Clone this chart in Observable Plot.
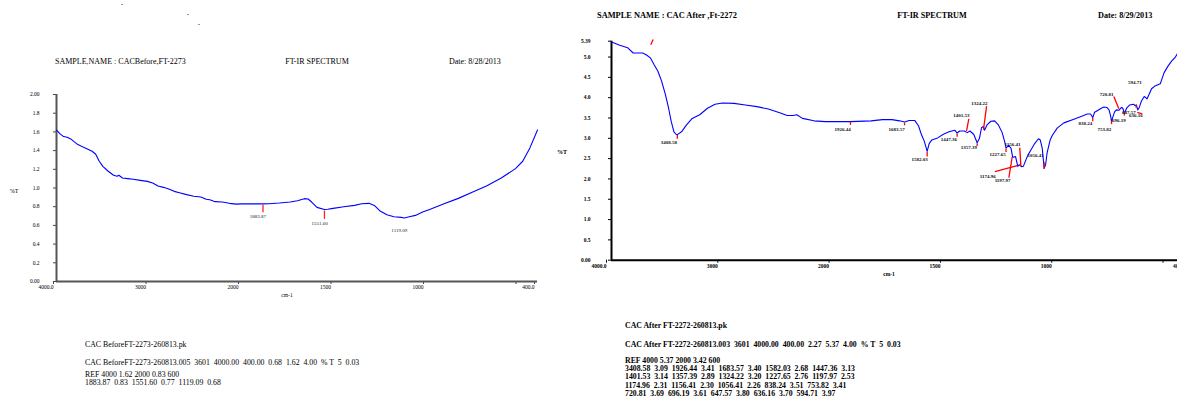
<!DOCTYPE html>
<html><head><meta charset="utf-8">
<script src="https://cdn.jsdelivr.net/npm/d3@7"></script>
<script src="https://cdn.jsdelivr.net/npm/@observablehq/plot@0.6"></script>
<style>
html,body{margin:0;padding:0;width:1177px;height:400px;overflow:hidden;background:#fff;}
body{position:relative;font-family:"Liberation Serif","Times New Roman",serif;color:#000;}
.t{position:absolute;white-space:pre;line-height:1;}
.b{font-weight:bold;}
.c{transform:translateX(-50%);}
#left,#right{position:absolute;top:0;height:300px;}
#left{left:0px;width:580px;} #right{left:580px;width:620px;}
#left svg,#right svg{max-width:none !important;}
.dot{position:absolute;width:2px;height:1px;background:#999;}
</style></head><body>
<div id="left"></div><div id="right"></div>
<div id="texts"></div>
<script>
// ---------- DATA ----------
// Left spectrum: CAC Before (wavenumber cm-1, %T)
const leftSpectrum = [
 [4000,1.62],[3961,1.579],[3923,1.55],[3884,1.543],[3846,1.525],[3807,1.493],[3769,1.464],[3730,1.446],
 [3672,1.421],[3615,1.393],[3576,1.361],[3538,1.286],[3499,1.232],[3441,1.179],[3383,1.136],[3345,1.125],
 [3326,1.136],[3287,1.107],[3229,1.1],[3171,1.093],[3094,1.082],[3017,1.071],[2960,1.054],[2902,1.021],
 [2844,1.007],[2786,0.989],[2728,0.964],[2671,0.95],[2593,0.929],[2516,0.911],[2439,0.904],[2382,0.879],
 [2343,0.875],[2285,0.854],[2208,0.85],[2131,0.836],[2054,0.828],[2000,0.83],[1950,0.83],[1883.87,0.83],
 [1853,0.832],[1795,0.839],[1737,0.85],[1698,0.864],[1660,0.886],[1640,0.882],[1621,0.85],[1592,0.793],
 [1551.6,0.77],[1534,0.772],[1505,0.782],[1447,0.8],[1389,0.814],[1350,0.832],[1311,0.836],[1282,0.814],
 [1253,0.757],[1214,0.714],[1176,0.693],[1137,0.686],[1119.09,0.68],[1099,0.689],[1060,0.707],[1021,0.743],
 [983,0.771],[905,0.832],[828,0.889],[750,0.957],[673,1.025],[596,1.107],[519,1.207],[480,1.286],[441,1.429],[400,1.62]
];
// Right spectrum: CAC After
const rightSpectrum = [
 [4000,5.37],[3925,5.29],[3856,5.23],[3805,5.1],[3771,5.1],[3720,5.1],[3685,5.05],[3651,4.98],[3617,4.81],
 [3583,4.65],[3549,4.4],[3515,4.07],[3487,3.74],[3463,3.41],[3439,3.16],[3420,3.1],[3408.58,3.09],[3371,3.16],
 [3326,3.33],[3275,3.49],[3207,3.58],[3138,3.74],[3070,3.84],[3002,3.87],[2899,3.86],[2797,3.82],[2694,3.78],
 [2591,3.72],[2489,3.63],[2421,3.56],[2369,3.56],[2335,3.58],[2284,3.49],[2181,3.43],[2079,3.41],[2000,3.41],
 [1926.44,3.41],[1834,3.43],[1783,3.46],[1740,3.46],[1706,3.43],[1683.57,3.4],[1663,3.44],[1638,3.44],
 [1621,3.31],[1607,3.08],[1595,2.93],[1582.03,2.68],[1573,2.87],[1561,2.96],[1535,3.01],[1509,3.1],[1484,3.16],
 [1458,3.2],[1447.36,3.13],[1436,3.18],[1415,3.18],[1401.53,3.14],[1390,3.18],[1373,3.1],[1357.39,2.89],
 [1347,3.0],[1338,3.26],[1330,3.29],[1324.22,3.2],[1313,3.33],[1296,3.42],[1279,3.43],[1262,3.33],[1245,3.14],
 [1233,2.9],[1227.65,2.76],[1215,2.83],[1205,2.75],[1197.97,2.53],[1185,2.55],[1174.96,2.31],[1168,2.35],
 [1156.41,2.3],[1150,2.31],[1142,2.42],[1130,2.58],[1116,2.71],[1099,2.87],[1082,2.99],[1074,2.96],[1065,2.75],
 [1056.41,2.26],[1050,2.35],[1043,2.65],[1030,2.95],[1020,3.07],[998,3.25],[968,3.38],[923,3.47],[885,3.55],
 [863,3.6],[848,3.6],[838.24,3.51],[830,3.64],[818,3.68],[800,3.74],[788,3.77],[775,3.76],[765,3.7],[758,3.55],
 [753.82,3.41],[748,3.52],[740,3.65],[732,3.7],[720.81,3.69],[709,3.76],[703,3.74],[696.19,3.61],[686,3.74],
 [672,3.82],[655,3.84],[647.57,3.8],[642,3.82],[636.16,3.7],[629,3.76],[620,3.91],[607,4.03],[600,4.0],
 [594.71,3.97],[586,4.07],[574,4.22],[561,4.28],[535,4.34],[518,4.61],[501,4.77],[484,4.9],[467,5.0],[453,5.13]
];
// Peak tables (from the printed peak lists)
const leftPeakWn = [1883.87, 1551.60, 1119.09];
const leftPeakT  = [0.83, 0.77, 0.68];
const rightPeakWn = [3408.58,1926.44,1683.57,1582.03,1447.36,1401.53,1357.39,1324.22,1227.65,1197.97,
                     1174.96,1156.41,1056.41,838.24,753.82,720.81,696.19,647.57,636.16,594.71];
const rightPeakT  = [3.09,3.41,3.40,2.68,3.13,3.14,2.89,3.20,2.76,2.53,2.31,2.30,2.26,3.51,3.41,3.69,3.61,3.80,3.70,3.97];
// Where each peak label sits (wavenumber, %T)
const leftLabelWn = [1911, 1578, 1147];
const leftLabelT  = [0.70, 0.62, 0.55];
const rightLabelWn = [3485,1962,1719,1616,1485,1428,1395,1347,1265,1243,1310,1199,1095,871,786,776,721,676,645,649];
const rightLabelT  = [2.90,3.22,3.22,2.49,2.97,3.56,2.77,3.86,2.60,1.96,2.06,2.85,2.58,3.37,3.23,4.08,3.44,3.63,3.56,4.37];
// Red peak markers: [wn1, T1, wn2, T2]
const leftMarkers = [[1883.87,0.82,1883.87,0.74],[1551.6,0.76,1551.6,0.67]];
const rightMarkers = [
 [3408.58,3.08,3408.58,2.99],[1926.44,3.40,1926.44,3.33],[1683.57,3.39,1683.57,3.32],[1582.03,2.67,1582.03,2.55],
 [1447.36,3.12,1447.36,3.04],[1405,3.18,1395,3.48],[1357.39,2.88,1357.39,2.81],[1329,3.21,1315,3.79],
 [1227.65,2.75,1227.65,2.66],[1215,2.03,1200,2.54],[1278,2.18,1177,2.33],[1166,2.77,1161,2.31],
 [1056.41,2.41,1056.41,2.25],[838.24,3.50,838.24,3.42],[753.82,3.43,753.82,3.35],[743.5,4.03,721,3.73],
 [696.19,3.64,696.19,3.56],[643,3.83,643,3.75],[638,3.64,616,3.60],[3647,5.30,3626,5.43]
];
// Axis ticks
const xTicks = [4000, 3000, 2000, 1500, 1000, 500, 400];
const leftYTicks = [0,0.2,0.4,0.6,0.8,1.0,1.2,1.4,1.6,1.8,2.0];
const rightYTicks = [0,0.5,1.0,1.5,2.0,2.5,3.0,3.5,4.0,4.5,5.0,5.39];
// Header / footer texts
const leftHeader = {name: "SAMPLE,NAME : CACBefore,FT-2273", title: "FT-IR SPECTRUM", date: "Date: 8/28/2013"};
const rightHeader = {name: "SAMPLE NAME : CAC After ,Ft-2272", title: "FT-IR SPECTRUM", date: "Date: 8/29/2013"};
const leftFooter = ["CAC BeforeFT-2273-260813.pk",
  "CAC BeforeFT-2273-260813.005  3601  4000.00  400.00  0.68  1.62  4.00  % T  5  0.03",
  "REF 4000 1.62 2000 0.83 600"];
const rightFooter = ["CAC After FT-2272-260813.pk",
  "CAC After FT-2272-260813.003  3601  4000.00  400.00  2.27  5.37  4.00  % T  5  0.03",
  "REF 4000 5.37 2000 3.42 600"];

// ---------- DRAW ----------
const fmtX = d => d === 4000 ? "4000.0" : d === 400 ? "400.0" : d === 500 ? "" : String(d);
const fmtYL = d => (d === 0 || d === 2) ? d.toFixed(2) : d.toFixed(1);
const fmtYR = d => (d === 0 || d === 5.39) ? d.toFixed(2) : d.toFixed(1);
const idx = a => a.map((_, i) => i);

const leftPlot = Plot.plot({
  width: 580, height: 300,
  marginLeft: 56, marginRight: 43, marginTop: 94, marginBottom: 19,
  style: {fontFamily: "Liberation Serif, serif", background: "transparent", color: "#000", maxWidth: "none"},
  x: {type: "linear", domain: [4000, 2000, 400], range: [56, 241, 537]},
  y: {type: "linear", domain: [0, 2], range: [281, 94]},
  marks: [
    Plot.axisY({ticks: leftYTicks, tickFormat: fmtYL, tickSize: 3, tickPadding: 14, fontSize: 5.5, label: null, stroke: "#444"}),
    Plot.axisX({ticks: xTicks, tickFormat: fmtX, tickSize: 3, tickPadding: 1, fontSize: 5.5, label: null, textAnchor: "end", dx: -3, stroke: "#444"}),
    Plot.ruleY([0], {stroke: "#555", strokeWidth: 2}),
    Plot.ruleX([4000], {stroke: "#555", strokeWidth: 2}),
    Plot.line(leftSpectrum, {x: d => d[0], y: d => d[1], stroke: "#0000ff", strokeWidth: 1.1}),
    Plot.link(leftMarkers, {x1: d => d[0], y1: d => d[1], x2: d => d[2], y2: d => d[3], stroke: "#ff2020", strokeWidth: 1.3}),
    Plot.text(idx(leftPeakWn), {x: i => leftLabelWn[i], y: i => leftLabelT[i], text: i => leftPeakWn[i].toFixed(2), fontSize: 5, fill: "#222"})
  ]
});
document.getElementById("left").appendChild(leftPlot);

const rightPlot = Plot.plot({
  width: 620, height: 300,
  marginLeft: 31, marginRight: 10, marginTop: 40.7, marginBottom: 40.3,
  style: {fontFamily: "Liberation Serif, serif", background: "transparent", color: "#000", fontWeight: "bold", maxWidth: "none"},
  x: {type: "linear", domain: [4000, 2000, 400], range: [31, 253.6, 609.8]},
  y: {type: "linear", domain: [0, 5.39], range: [259.7, 40.7]},
  marks: [
    Plot.axisY({ticks: rightYTicks, tickFormat: fmtYR, tickSize: 3, tickPadding: 18, fontSize: 5.5, fontWeight: "bold", label: null, stroke: "#000"}),
    Plot.axisX({ticks: xTicks, tickFormat: fmtX, tickSize: 3, tickPadding: 1, fontSize: 5.5, fontWeight: "bold", label: null, textAnchor: "end", dx: -5, stroke: "#000"}),
    Plot.ruleY([0], {stroke: "#000", strokeWidth: 2}),
    Plot.ruleX([4000], {stroke: "#000", strokeWidth: 2}),
    Plot.line(rightSpectrum, {x: d => d[0], y: d => d[1], stroke: "#0000ff", strokeWidth: 1.1}),
    Plot.link(rightMarkers, {x1: d => d[0], y1: d => d[1], x2: d => d[2], y2: d => d[3], stroke: "#ff0000", strokeWidth: 1.3}),
    Plot.text(idx(rightPeakWn), {x: i => rightLabelWn[i], y: i => rightLabelT[i], text: i => rightPeakWn[i].toFixed(2), fontSize: 5, fontWeight: "bold", fill: "#111"})
  ]
});
document.getElementById("right").appendChild(rightPlot);

// ---------- HTML TEXTS ----------
const T = document.getElementById("texts");
function put(txt, x, y, size, cls = "", html = false) {
  const d = document.createElement("div");
  d.className = "t " + cls;
  d.style.left = x + "px"; d.style.top = (y - size / 2) + "px"; d.style.fontSize = size + "px";
  if (html) d.innerHTML = txt; else d.textContent = txt;
  T.appendChild(d);
}
// stray dots at top
[[121,4],[187,14],[198,24]].forEach(([x, y]) => { const d = document.createElement("div"); d.className = "dot"; d.style.left = x + "px"; d.style.top = y + "px"; T.appendChild(d); });

put(leftHeader.name.replace(",", '<span style="color:#e00">,</span>'), 55, 62, 8, "", true);
put(leftHeader.title, 317, 62, 8, "c");
put(leftHeader.date, 449, 62, 8);
put(rightHeader.name, 597, 16.5, 8.4, "b");
put(rightHeader.title, 932, 16.5, 8.2, "b c");
put(rightHeader.date, 1098, 16.5, 8.2, "b");

put("%T", 14, 191, 6, "c");
put("%T", 562, 152, 6, "b c");
put("cm-1", 287, 296, 5.5, "c");
put("cm-1", 889, 275, 5.5, "b c");

// footers
put(leftFooter[0], 85, 345, 7.8);
put(leftFooter[1], 85, 363, 7.8);
put(leftFooter[2], 85, 375, 7.8);
put(leftPeakWn.map((w, i) => w.toFixed(2) + "  " + leftPeakT[i].toFixed(2)).join("  "), 85, 382.5, 7.8);

put(rightFooter[0], 625, 326, 7.8, "b");
put(rightFooter[1], 625, 345, 7.8, "b");
put(rightFooter[2], 625, 361, 7.8, "b");
for (let r = 0; r < 4; r++) {
  const row = [];
  for (let k = r * 5; k < r * 5 + 5; k++) row.push(rightPeakWn[k].toFixed(2) + "  " + rightPeakT[k].toFixed(2));
  put(row.join("  "), 625, 369 + r * 8.2, 7.8, "b");
}
</script>
</body></html>
